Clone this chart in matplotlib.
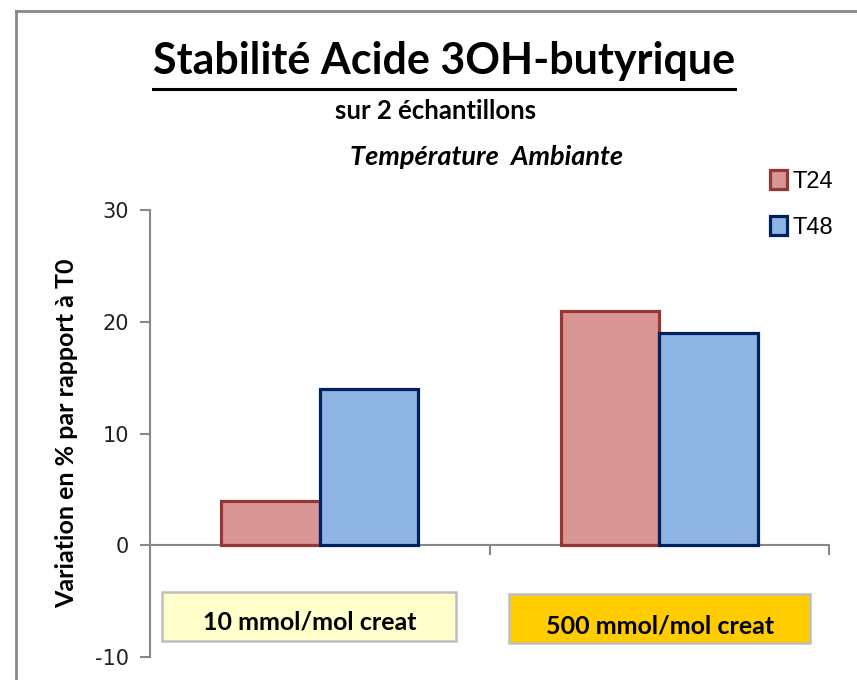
import matplotlib
matplotlib.use("Agg")
import matplotlib.pyplot as plt
from matplotlib.lines import Line2D
from matplotlib.patches import Rectangle, Patch
import numpy as np

categories = ["10 mmol/mol creat", "500 mmol/mol creat"]
series_names = ["T24", "T48"]
t24 = [4, 21]
t48 = [14, 19]
yticks = [-10, 0, 10, 20, 30]

title = "Stabilité Acide 3OH-butyrique"
subtitle = "sur 2 échantillons"
subtitle2 = "Température  Ambiante"
ylabel = "Variation en % par rapport à T0"

W, H = 857, 680
fig = plt.figure(figsize=(W / 100, H / 100), dpi=100)
fig.patch.set_facecolor("white")

def fx(px):
    return px / W

def fy(py):
    return 1 - py / H

ax = fig.add_axes([fx(150), fy(657), fx(829) - fx(150), fy(210) - fy(657)])
ax.set_ylim(-10, 30)
ax.set_xlim(-0.5, 1.5)

x = np.arange(len(categories))
bw = 0.29
ax.bar(x - bw / 2, t24, bw, color="#D99694", edgecolor="#953735", linewidth=2.3, label=series_names[0], zorder=3)
ax.bar(x + bw / 2, t48, bw, color="#8EB4E3", edgecolor="#002060", linewidth=2.3, label=series_names[1], zorder=3)

for s in ["top", "right"]:
    ax.spines[s].set_visible(False)
ax.spines["left"].set_color("#888888")
ax.spines["left"].set_linewidth(1.5)
ax.spines["bottom"].set_position(("data", 0))
ax.spines["bottom"].set_color("#888888")
ax.spines["bottom"].set_linewidth(1.5)

ax.set_yticks(yticks)
ax.set_yticklabels([str(v) for v in yticks], fontfamily="DejaVu Sans", fontsize=15, color="#222222")
ax.tick_params(axis="y", direction="out", length=7, width=1.5, color="#888888", pad=8)
ax.set_xticks([0.5, 1.5])
ax.set_xticklabels([])
ax.tick_params(axis="x", direction="out", length=7, width=1.5, color="#888888")

fig.text(fx(67), fy(433), ylabel, rotation=90, ha="center", va="center",
         fontfamily="Lato", fontweight="bold", fontsize=18, color="black")

# Title with underline
t = fig.text(fx(444), fy(74), title, ha="center", va="baseline",
             fontfamily="Lato", fontweight="bold", fontsize=31, color="black")
fig.text(fx(436), fy(119), subtitle, ha="center", va="baseline",
         fontfamily="Lato", fontweight="bold", fontsize=18.5, color="black")
fig.text(fx(487), fy(165), subtitle2, ha="center", va="baseline",
         fontfamily="Lato", fontweight="bold", fontstyle="italic", fontsize=19.5, color="black")

fig.canvas.draw()
bb = t.get_window_extent(renderer=fig.canvas.get_renderer())
fig.add_artist(Line2D([bb.x0 / W, bb.x1 / W], [fy(89), fy(89)], color="black", linewidth=2.2,
                      transform=fig.transFigure))

# Outer frame lines
fig.add_artist(Line2D([fx(16), 1.0], [fy(11), fy(11)], color="#878787", linewidth=2, transform=fig.transFigure))
fig.add_artist(Line2D([fx(16), fx(16)], [fy(11), 0.0], color="#878787", linewidth=2, transform=fig.transFigure))

# Legend
handles = [Patch(facecolor="#D99694", edgecolor="#953735", linewidth=2.3),
           Patch(facecolor="#8EB4E3", edgecolor="#002060", linewidth=2.3)]
leg = fig.legend(handles, series_names, loc="upper left", bbox_to_anchor=(fx(749), fy(149)),
                 frameon=False, handlelength=0.7, handleheight=0.85, handletextpad=0.25,
                 labelspacing=1.0, prop={"family": "Liberation Sans", "size": 17})

# Category label boxes
box_specs = [((162, 592, 456, 641), "#FFFFCC"), ((509, 594, 810, 643), "#FFCC00")]
for (x0, y0, x1, y1), fc in box_specs:
    fig.add_artist(Rectangle((fx(x0), fy(y1)), fx(x1) - fx(x0), fy(y0) - fy(y1),
                             facecolor=fc, edgecolor="#BFBFBF", linewidth=1.8, transform=fig.transFigure))
fig.text(fx(310), fy(622), categories[0], ha="center", va="center",
         fontfamily="Lato", fontweight="bold", fontsize=18, color="black")
fig.text(fx(660), fy(626), categories[1], ha="center", va="center",
         fontfamily="Lato", fontweight="bold", fontsize=18, color="black")

fig.savefig("out.png", dpi=100, facecolor="white")
